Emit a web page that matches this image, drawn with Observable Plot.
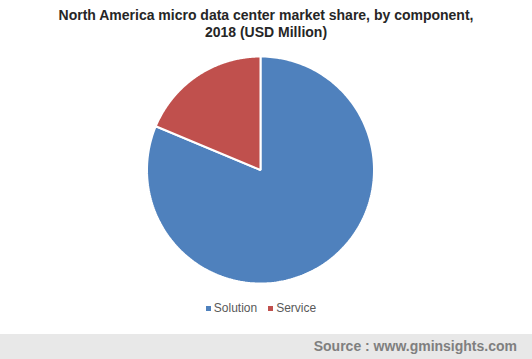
<!DOCTYPE html>
<html>
<head>
<meta charset="utf-8">
<script src="https://cdn.jsdelivr.net/npm/d3@7"></script>
<script src="https://cdn.jsdelivr.net/npm/@observablehq/plot@0.6"></script>
<style>
  html, body { margin: 0; padding: 0; background: #fff; }
  #wrap { position: relative; width: 532px; height: 359px; overflow: hidden; font-family: "Liberation Sans", Arial, sans-serif; }
  #title { position: absolute; left: 0; top: 7px; width: 532px; text-align: center; font-weight: bold; font-size: 14px; line-height: 17px; color: #262626; }
  #chart { position: absolute; left: 0; top: 0; }
  #legend { position: absolute; left: 0; top: 301px; width: 522px; display: flex; justify-content: center; gap: 11px; font-size: 12px; color: #595959; }
  #legend span.item { display: inline-flex; align-items: center; }
  #legend span.sw { display: inline-block; width: 5px; height: 5px; margin-right: 3px; }
  #footer { position: absolute; left: 0; top: 334px; width: 532px; height: 25px; background: #e8e8e8; }
  #footer div { position: absolute; right: 15px; top: 4px; font-weight: bold; font-size: 14px; color: #7f7f7f; }
</style>
</head>
<body>
<div id="wrap">
  <div id="chart"></div>
  <div id="title">North America micro data center market share, by component,<br>2018 (USD Million)</div>
  <div id="legend"></div>
  <div id="footer"><div>Source : www.gminsights.com</div></div>
</div>
<script>
const components = ["Solution", "Service"];
const shares = [81.3, 18.7];
const colors = ["#4F81BD", "#C0504D"];

const data = components.map((c, i) => ({component: c, value: shares[i]}));
const cx = 260, cy = 169.5, r = 113.5;
const arcs = d3.pie().sort(null).value(d => d.value)(data);
const features = arcs.map(a => {
  const pts = [[cx, cy]];
  const n = 240;
  for (let k = 0; k <= n; k++) {
    const t = a.startAngle + (a.endAngle - a.startAngle) * k / n;
    pts.push([cx + r * Math.sin(t), cy - r * Math.cos(t)]);
  }
  pts.push([cx, cy]);
  return {type: "Feature", properties: {component: a.data.component}, geometry: {type: "Polygon", coordinates: [pts]}};
});

const chart = Plot.plot({
  width: 532,
  height: 334,
  margin: 0,
  projection: {type: "identity"},
  color: {domain: components, range: colors},
  marks: [
    Plot.geo(features, {fill: d => d.properties.component, stroke: "white", strokeWidth: 2, strokeLinejoin: "miter"})
  ]
});
document.getElementById("chart").appendChild(chart);

const legend = document.getElementById("legend");
components.forEach((c, i) => {
  const item = document.createElement("span");
  item.className = "item";
  const sw = document.createElement("span");
  sw.className = "sw";
  sw.style.background = colors[i];
  item.appendChild(sw);
  item.appendChild(document.createTextNode(c));
  legend.appendChild(item);
});
</script>
</body>
</html>
